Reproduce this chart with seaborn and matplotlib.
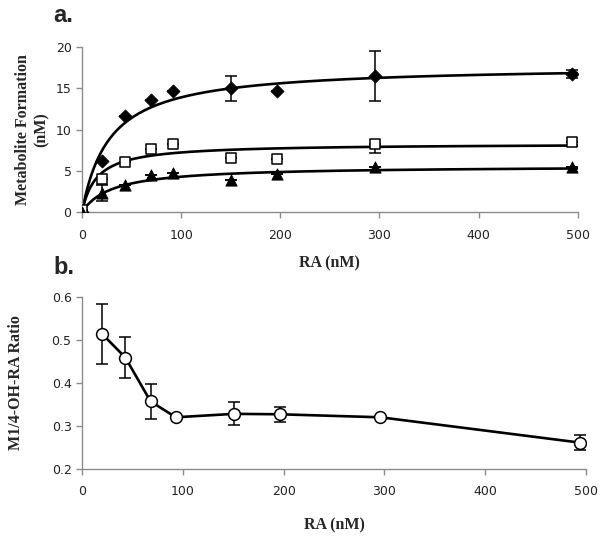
import numpy as np
import pandas as pd
import matplotlib
matplotlib.use("Agg")
import matplotlib.pyplot as plt
import seaborn as sns

# ---- data ----
ra = [0, 20, 43, 70, 92, 150, 197, 296, 494]

diamond = [0.0, 6.2, 11.7, 13.6, 14.7, 15.0, 14.7, 16.5, 16.7]
diamond_err = [0, 0, 0, 0, 0, 1.5, 0, 3.0, 0.5]

square = [0.2, 4.0, 6.1, 7.6, 8.2, 6.5, 6.4, 8.2, 8.5]
square_err_lo = [0, 0, 0, 0, 0, 0, 0, 1.1, 0]
square_err_hi = [0, 0, 0, 0, 0, 0, 0, 0, 0]

triangle = [0.0, 2.3, 3.3, 4.5, 4.7, 3.9, 4.6, 5.4, 5.5]
triangle_err = [0, 1.0, 0, 0, 0, 0, 0, 0, 0]

# Michaelis-Menten fit parameters (Vmax, Km) for the three curves
fits = {"diamond": (17.8, 28.0), "square": (8.3, 15.0), "triangle": (5.6, 31.0)}

ra_b = [20, 43, 68, 93, 151, 196, 296, 494]
ratio = [0.514, 0.459, 0.357, 0.320, 0.328, 0.327, 0.320, 0.261]
ratio_err = [0.07, 0.047, 0.04, 0.0, 0.027, 0.017, 0.0, 0.017]

sns.set_style("ticks")
plt.rcParams["font.family"] = ["DejaVu Sans"]

fig = plt.figure(figsize=(6.03, 5.42), dpi=100)
ax1 = fig.add_axes([0.136, 0.609, 0.822, 0.304])
ax2 = fig.add_axes([0.136, 0.135, 0.836, 0.317])

grid = np.linspace(0, 500, 300)
for name, (vmax, km) in fits.items():
    sns.lineplot(x=grid, y=vmax * grid / (km + grid), ax=ax1, color="black",
                 linewidth=1.9, zorder=2)

ax1.errorbar(ra, diamond, yerr=diamond_err, fmt="none", ecolor="black",
             elinewidth=1.1, capsize=4, capthick=1.1, zorder=3)
ax1.errorbar(ra, square, yerr=[square_err_lo, square_err_hi], fmt="none",
             ecolor="black", elinewidth=1.1, capsize=4, capthick=1.1, zorder=3)
ax1.errorbar(ra, triangle, yerr=triangle_err, fmt="none", ecolor="black",
             elinewidth=1.1, capsize=4, capthick=1.1, zorder=3)

sns.scatterplot(x=ra, y=diamond, ax=ax1, marker="D", s=45, color="black",
                edgecolor="black", zorder=4)
sns.scatterplot(x=ra, y=square, ax=ax1, marker="s", s=50, color="white",
                edgecolor="black", linewidth=1.1, zorder=4)
sns.scatterplot(x=ra, y=triangle, ax=ax1, marker="^", s=65, color="black",
                edgecolor="black", zorder=4)

# panel b
ax2.errorbar(ra_b, ratio, yerr=ratio_err, fmt="none", ecolor="black",
             elinewidth=1.1, capsize=4, capthick=1.1, zorder=2)
df_b = pd.DataFrame({"RA": ra_b, "ratio": ratio})
sns.lineplot(data=df_b, x="RA", y="ratio", ax=ax2, color="black", linewidth=1.9,
             marker="o", markersize=8.5, markerfacecolor="white",
             markeredgecolor="black", markeredgewidth=1.1, zorder=3)

label_font = dict(family="Liberation Serif", fontweight="bold", fontsize=11.5)

for ax in (ax1, ax2):
    ax.set_xlim(0, 500)
    ax.set_xticks(range(0, 501, 100))
    for side in ("top", "right"):
        ax.spines[side].set_visible(False)
    for side in ("left", "bottom"):
        ax.spines[side].set_color("#8c8c8c")
        ax.spines[side].set_linewidth(1.0)
    ax.tick_params(axis="both", colors="#8c8c8c", labelcolor="#222222",
                   labelsize=9, length=4, width=1.0, direction="out")
    ax.tick_params(axis="x", pad=8)
    ax.set_xlabel("RA (nM)", va="center", **label_font)
    ax.set_ylabel("", va="center", **label_font)

ax1.set_ylim(0, 20)
ax1.set_yticks(range(0, 21, 5))
ax1.set_ylabel("Metabolite Formation\n(nM)", linespacing=1.2, va="center",
               **label_font)
ax1.xaxis.set_label_coords(0.5, -0.31)
ax1.yaxis.set_label_coords(-0.10, 0.5)

ax2.set_ylim(0.2, 0.6)
ax2.set_yticks([0.2, 0.3, 0.4, 0.5, 0.6])
ax2.set_yticklabels(["0.2", "0.3", "0.4", "0.5", "0.6"])
ax2.set_ylabel("M1/4-OH-RA Ratio", va="center", **label_font)
ax2.xaxis.set_label_coords(0.5, -0.33)
ax2.yaxis.set_label_coords(-0.13, 0.5)

fig.text(0.088, 0.972, "a.", fontsize=17, fontweight="bold", va="center",
         family="Liberation Sans")
fig.text(0.088, 0.507, "b.", fontsize=17, fontweight="bold", va="center",
         family="Liberation Sans")

fig.savefig("out.png", dpi=100, facecolor="white")
